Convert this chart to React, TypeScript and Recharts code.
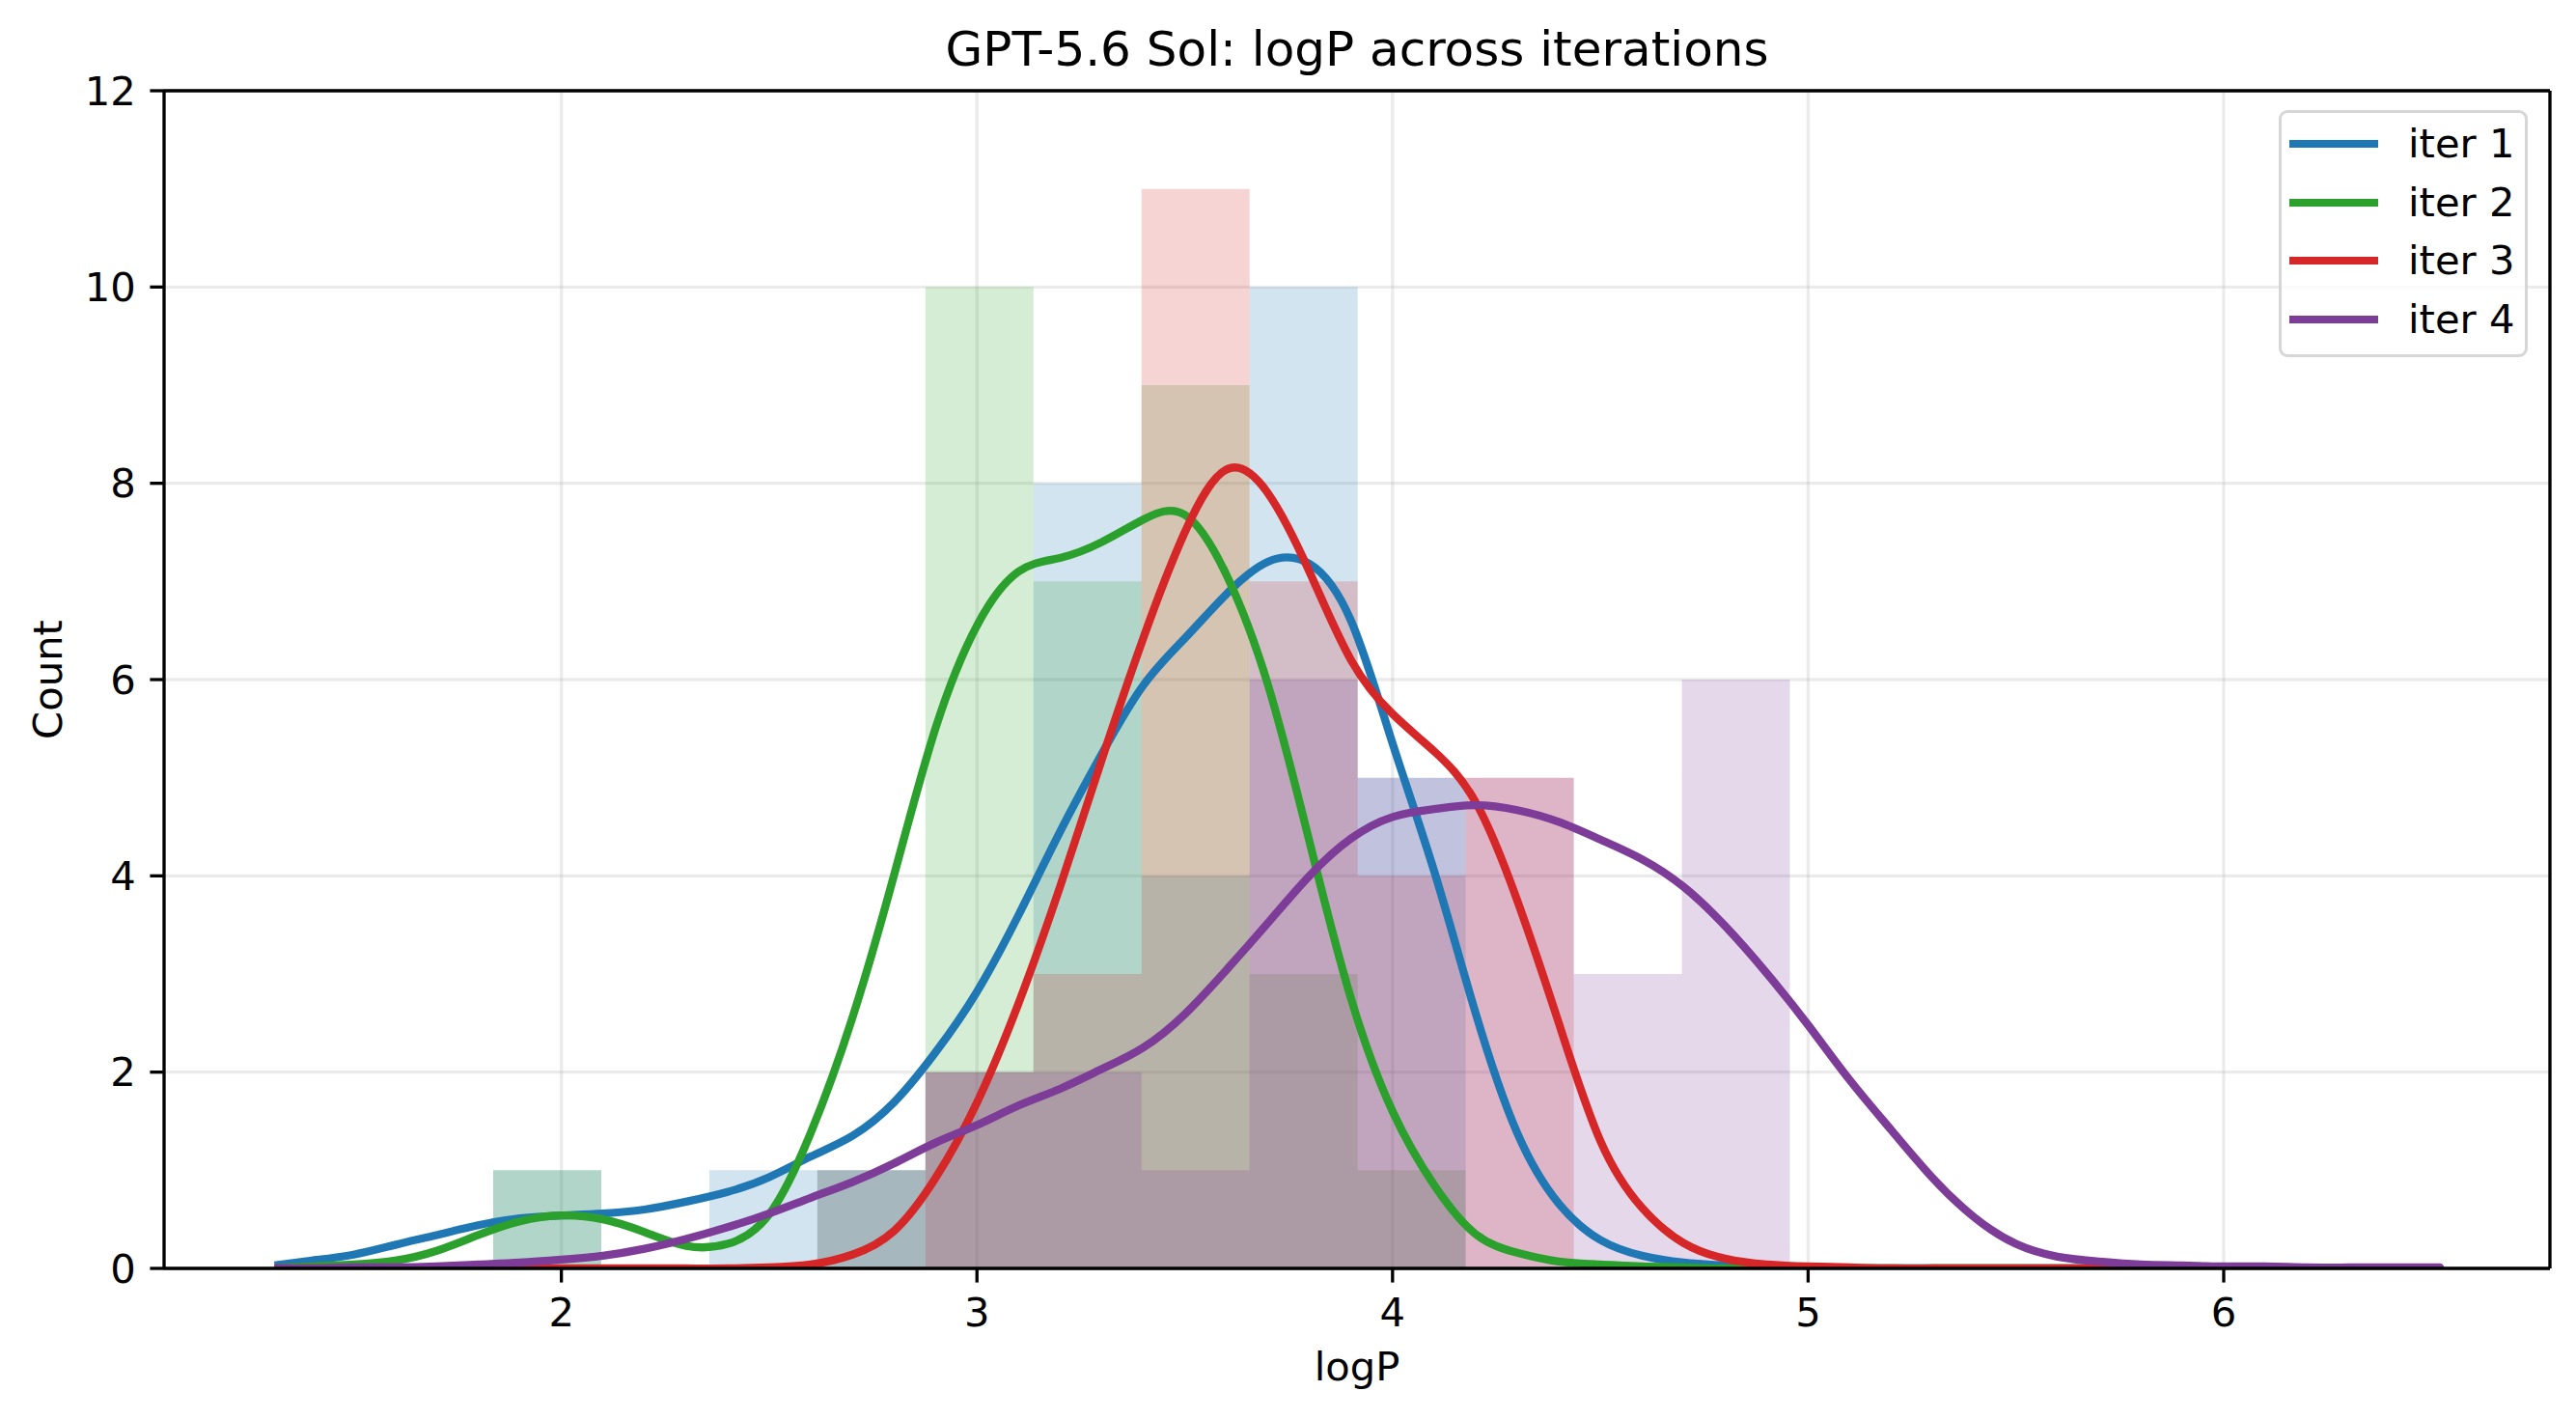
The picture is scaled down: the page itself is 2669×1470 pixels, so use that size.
import { ComposedChart, Area, Line, XAxis, YAxis, CartesianGrid, Legend, ReferenceLine } from 'recharts'

const FONT = 'DejaVu Sans'

const SERIES = [
  { key: 'iter1', name: 'iter 1', color: '#1f77b4' },
  { key: 'iter2', name: 'iter 2', color: '#2ca02c' },
  { key: 'iter3', name: 'iter 3', color: '#d62728' },
  { key: 'iter4', name: 'iter 4', color: '#7d3c98' },
]

// shared histogram bins (left edges + last right edge)
const BIN_EDGES = [1.836, 2.096, 2.356, 2.616, 2.876, 3.136, 3.396, 3.656, 3.916, 4.176, 4.436, 4.696, 4.956]

const HIST_ITER1 = [1, 0, 1, 1, 2, 8, 4, 10, 5, 0, 0, 0]
const HIST_ITER2 = [1, 0, 0, 1, 10, 7, 9, 3, 1, 0, 0, 0]
const HIST_ITER3 = [0, 0, 0, 0, 2, 3, 11, 7, 4, 5, 0, 0]
const HIST_ITER4 = [0, 0, 0, 1, 2, 2, 1, 6, 5, 5, 3, 6]

// kde curves (already scaled to counts)
const KDE_X = [
  1.31, 1.4, 1.5, 1.6, 1.7, 1.8, 1.9, 2.0, 2.1, 2.2, 2.3, 2.4, 2.5, 2.6, 2.7, 2.8, 2.9, 3.0,
  3.1, 3.2, 3.3, 3.4, 3.5, 3.6, 3.7, 3.8, 3.9, 4.0, 4.1, 4.2, 4.3, 4.4, 4.5, 4.6, 4.7, 4.8,
  4.9, 5.0, 5.1, 5.2, 5.3, 5.4, 5.5, 5.6, 5.7, 5.8, 5.9, 6.0, 6.1, 6.2, 6.3, 6.4, 6.5, 6.52,
]

const KDE_ITER1 = [
  0.03, 0.08, 0.14, 0.24, 0.34, 0.44, 0.51, 0.54, 0.56, 0.6, 0.68, 0.78, 0.93, 1.14, 1.35, 1.69, 2.2, 2.82,
  3.6, 4.45, 5.24, 5.94, 6.42, 6.87, 7.2, 7.18, 6.6, 5.35, 4.05, 2.6, 1.38, 0.66, 0.29, 0.13, 0.06, 0.03,
  0.01, 0, 0, 0, 0, 0, 0, 0, 0, 0, 0, 0, 0, 0, 0, 0, 0, 0,
]
const KDE_ITER2 = [
  0, 0.02, 0.04, 0.08, 0.18, 0.34, 0.48, 0.54, 0.5, 0.37, 0.23, 0.25, 0.55, 1.38, 2.55, 4.0, 5.5, 6.55,
  7.1, 7.24, 7.4, 7.63, 7.68, 7.07, 5.95, 4.35, 2.75, 1.6, 0.85, 0.35, 0.16, 0.07, 0.04, 0.02, 0.01, 0,
  0, 0, 0, 0, 0, 0, 0, 0, 0, 0, 0, 0, 0, 0, 0, 0, 0, 0,
]
const KDE_ITER3 = [
  0, 0, 0, 0, 0, 0, 0, 0, 0, 0, 0, 0, 0.01, 0.04, 0.14, 0.38, 0.92, 1.69,
  2.7, 3.89, 5.18, 6.42, 7.5, 8.14, 7.9, 7.1, 6.2, 5.65, 5.27, 4.75, 3.75, 2.5, 1.3, 0.62, 0.26, 0.1,
  0.04, 0.02, 0.01, 0, 0, 0, 0, 0, 0, 0, 0, 0, 0, 0, 0, 0, 0, 0,
]
const KDE_ITER4 = [
  0, 0, 0.01, 0.01, 0.02, 0.04, 0.06, 0.09, 0.13, 0.2, 0.3, 0.42, 0.56, 0.72, 0.88, 1.07, 1.28, 1.46,
  1.66, 1.83, 2.03, 2.25, 2.59, 3.04, 3.52, 4.0, 4.38, 4.6, 4.68, 4.72, 4.67, 4.55, 4.37, 4.17, 3.89, 3.49,
  3.01, 2.48, 1.92, 1.41, 0.92, 0.52, 0.25, 0.12, 0.07, 0.04, 0.03, 0.02, 0.02, 0.01, 0.01, 0.01, 0.01, 0.01,
]

const X_DOMAIN = [1.044, 6.785]
const X_TICKS = [2, 3, 4, 5, 6]
const Y_TICKS = [0, 2, 4, 6, 8, 10, 12]

const HISTS = [HIST_ITER1, HIST_ITER2, HIST_ITER3, HIST_ITER4]
const KDES = [KDE_ITER1, KDE_ITER2, KDE_ITER3, KDE_ITER4]

// step areas: value of bin i held from edge i to edge i+1, drop to 0 at the last edge
const histData = (counts: number[]) =>
  BIN_EDGES.map((e, i) => ({ x: e, y: i < counts.length ? counts[i] : 0 }))

const kdeData = (vals: number[]) => KDE_X.map((x, i) => ({ x, y: vals[i] }))

const W = 2669
const H = 1470
const FS = 41.7

function LegendBox() {
  return (
    <div
      style={{
        width: 258,
        height: 256,
        boxSizing: 'border-box',
        border: '3.5px solid #d6d6d6',
        borderRadius: 9,
        background: 'rgba(255,255,255,0.8)',
        paddingTop: 2,
        fontFamily: FONT,
      }}
    >
      {SERIES.map(s => (
        <div key={s.key} style={{ display: 'flex', alignItems: 'center', height: 60.5 }}>
          <span style={{ display: 'inline-block', width: 92, height: 8.3, background: s.color, marginLeft: 8 }} />
          <span style={{ marginLeft: 31, fontSize: FS, lineHeight: 1, color: '#000' }}>{s.name}</span>
        </div>
      ))}
    </div>
  )
}

export default function App() {
  const tick = { fontSize: FS, fill: '#000', fontFamily: FONT }
  return (
    <div style={{ position: 'absolute', left: 0, top: 0, width: W, height: H, background: '#fff', fontFamily: FONT }}>
      <div
        style={{
          position: 'absolute',
          left: 170,
          width: 2472,
          top: 26,
          textAlign: 'center',
          fontSize: 50,
          lineHeight: 1,
          color: '#000',
        }}
      >
        GPT-5.6 Sol: logP across iterations
      </div>
      <ComposedChart width={W} height={H} margin={{ top: 94, right: 27, bottom: 0, left: 0 }}>
        <CartesianGrid stroke="#b0b0b0" strokeOpacity={0.25} strokeWidth={3.3} />
        <XAxis
          type="number"
          dataKey="x"
          domain={X_DOMAIN}
          ticks={X_TICKS}
          allowDataOverflow
          height={156}
          tick={tick}
          tickSize={14.6}
          tickMargin={16}
          tickLine={{ stroke: '#000', strokeWidth: 3.3 }}
          axisLine={{ stroke: '#000', strokeWidth: 3.3 }}
          label={{ value: 'logP', position: 'insideBottom', offset: 40, fontSize: FS, fill: '#000', fontFamily: FONT }}
        />
        <YAxis
          type="number"
          domain={[0, 12]}
          ticks={Y_TICKS}
          allowDataOverflow
          width={170}
          tick={tick}
          tickSize={14.6}
          tickMargin={14.6}
          tickLine={{ stroke: '#000', strokeWidth: 3.3 }}
          axisLine={{ stroke: '#000', strokeWidth: 3.3 }}
          label={{
            content: () => (
              <text
                x={64}
                y={704}
                transform="rotate(-90 64 704)"
                textAnchor="middle"
                fontSize={FS}
                fill="#000"
                fontFamily={FONT}
              >
                Count
              </text>
            ),
          }}
        />
        {SERIES.map((s, i) => (
          <Area
            key={'h' + s.key}
            data={histData(HISTS[i])}
            dataKey="y"
            type="stepAfter"
            fill={s.color}
            fillOpacity={0.2}
            stroke="none"
            isAnimationActive={false}
            legendType="none"
          />
        ))}
        {SERIES.map((s, i) => (
          <Line
            key={'k' + s.key}
            data={kdeData(KDES[i])}
            dataKey="y"
            name={s.name}
            type="natural"
            stroke={s.color}
            strokeWidth={8.3}
            dot={false}
            isAnimationActive={false}
          />
        ))}
        <ReferenceLine y={12} stroke="#000" strokeWidth={3.3} />
        <ReferenceLine x={X_DOMAIN[1]} stroke="#000" strokeWidth={3.3} />
        <Legend
          layout="horizontal"
          verticalAlign="middle"
          align="center"
          content={() => <LegendBox />}
          wrapperStyle={{ left: 2361, top: 114, width: 258, height: 256 }}
        />
      </ComposedChart>
    </div>
  )
}
